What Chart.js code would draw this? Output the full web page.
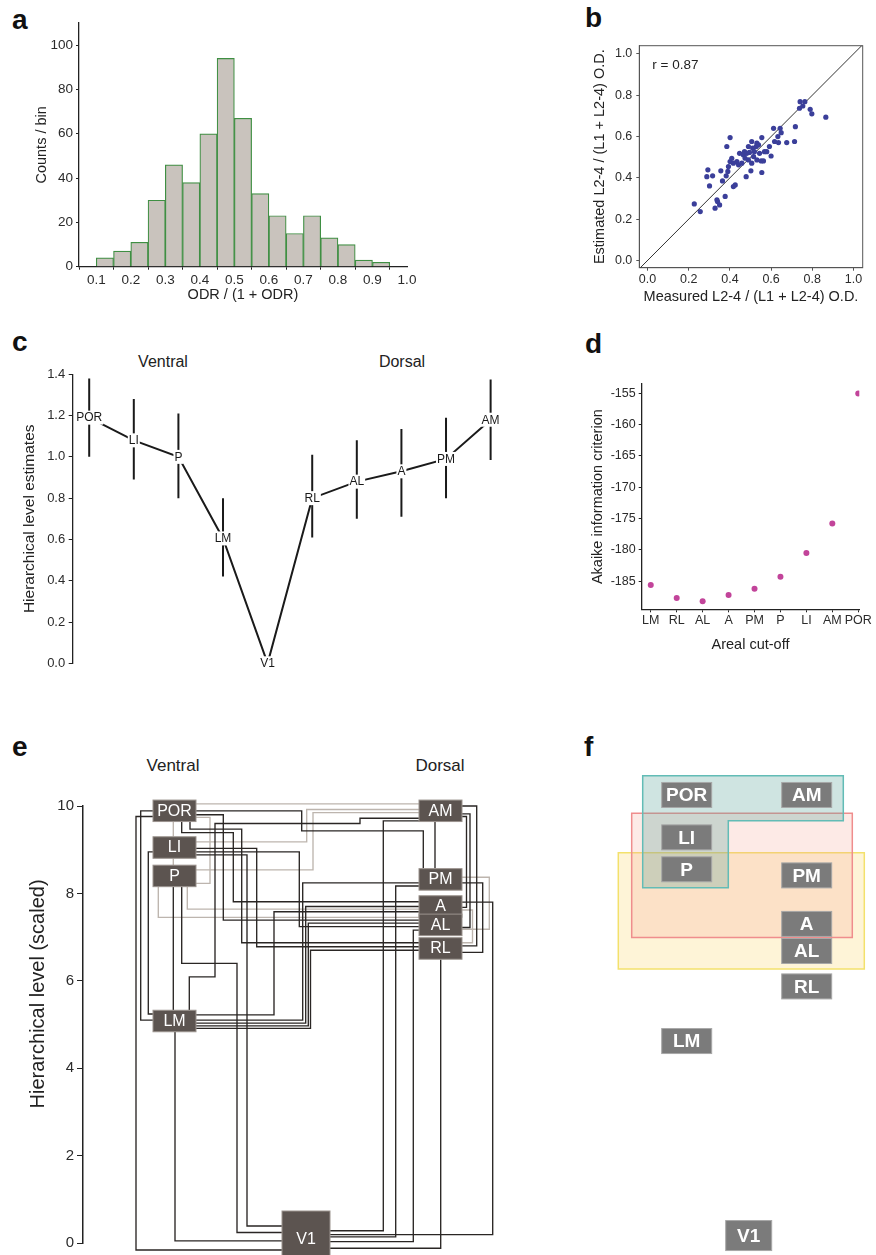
<!DOCTYPE html>
<html>
<head>
<meta charset="utf-8">
<script src="https://cdn.jsdelivr.net/npm/chart.js@4.4.1/dist/chart.umd.min.js"></script>
<style>
  body { margin: 0; background: #fff; width: 876px; height: 1255px; position: relative; overflow: hidden;
         font-family: "Liberation Sans", Arial, sans-serif; }
  canvas { position: absolute; }
  .lt { position: absolute; font-weight: bold; font-size: 28px; line-height: 28px; color: #111; }
  .hd { position: absolute; line-height: 1; color: #222; transform: translateX(-50%); white-space: nowrap; }
</style>
</head>
<body>
<div class="lt" style="left:12px;top:6px">a</div>
<div class="lt" style="left:585px;top:4px">b</div>
<div class="lt" style="left:12px;top:328px">c</div>
<div class="lt" style="left:585px;top:330px">d</div>
<div class="lt" style="left:12px;top:733px">e</div>
<div class="lt" style="left:584px;top:733px">f</div>

<div class="hd" style="left:163px;top:354px;font-size:16px">Ventral</div>
<div class="hd" style="left:402px;top:354px;font-size:16px">Dorsal</div>
<div class="hd" style="left:173px;top:757px;font-size:17px">Ventral</div>
<div class="hd" style="left:440px;top:757px;font-size:17px">Dorsal</div>

<canvas id="ca" width="420" height="310" style="left:0;top:0"></canvas>
<canvas id="cb" width="316" height="310" style="left:560px;top:0"></canvas>
<canvas id="cc" width="520" height="350" style="left:0;top:330px"></canvas>
<canvas id="cd" width="296" height="350" style="left:580px;top:330px"></canvas>
<canvas id="ce" width="520" height="465" style="left:0;top:790px"></canvas>
<canvas id="cf" width="296" height="495" style="left:580px;top:760px"></canvas>

<script>
// ---- a: histogram
const odrBins = [0.125, 0.175, 0.225, 0.275, 0.325, 0.375, 0.425, 0.475, 0.525, 0.575, 0.625, 0.675, 0.725, 0.775, 0.825, 0.875, 0.925];
const odrCounts = [4, 7, 11, 30, 46, 38, 60, 94, 67, 33, 23, 15, 23, 13, 10, 3, 2];
const odrTicksX = [0.1, 0.2, 0.3, 0.4, 0.5, 0.6, 0.7, 0.8, 0.9, 1.0];
const odrTicksY = [0, 20, 40, 60, 80, 100];

// ---- b: measured vs estimated
const measured = [0.227, 0.256, 0.293, 0.288, 0.316, 0.301, 0.328, 0.337, 0.340, 0.350, 0.356, 0.364, 0.377, 0.385, 0.382,
  0.390, 0.393, 0.401, 0.401, 0.409, 0.417, 0.426, 0.417, 0.434, 0.442, 0.447, 0.458, 0.466, 0.471, 0.474, 0.479, 0.482,
  0.490, 0.490, 0.495, 0.502, 0.506, 0.506, 0.511, 0.515, 0.519, 0.528, 0.531, 0.531, 0.539, 0.544, 0.552, 0.555, 0.555,
  0.563, 0.568, 0.579, 0.592, 0.600, 0.612, 0.617, 0.633, 0.636, 0.644, 0.649, 0.676, 0.714, 0.718, 0.738, 0.741, 0.754,
  0.764, 0.790, 0.798, 0.866];
const estimated = [0.274, 0.237, 0.439, 0.406, 0.410, 0.361, 0.253, 0.294, 0.285, 0.269, 0.434, 0.385, 0.310, 0.552, 0.410,
  0.431, 0.455, 0.595, 0.479, 0.495, 0.358, 0.366, 0.471, 0.479, 0.463, 0.519, 0.471, 0.511, 0.527, 0.495, 0.406, 0.519,
  0.552, 0.487, 0.523, 0.434, 0.576, 0.471, 0.544, 0.503, 0.527, 0.552, 0.568, 0.487, 0.560, 0.519, 0.482, 0.595, 0.426,
  0.482, 0.527, 0.527, 0.552, 0.506, 0.640, 0.576, 0.600, 0.571, 0.640, 0.619, 0.571, 0.576, 0.648, 0.737, 0.769, 0.748,
  0.769, 0.732, 0.710, 0.694];
const unitTicks = [0, 0.2, 0.4, 0.6, 0.8, 1.0];

// ---- c: hierarchical level estimates
const cAreas = ['POR', 'LI', 'P', 'LM', 'V1', 'RL', 'AL', 'A', 'PM', 'AM'];
const cEst = [1.19, 1.08, 1.00, 0.605, 0.0, 0.80, 0.88, 0.93, 0.99, 1.18];
const cLow = [1.00, 0.89, 0.80, 0.42, null, 0.61, 0.70, 0.71, 0.80, 0.985];
const cHigh = [1.38, 1.28, 1.21, 0.80, null, 1.01, 1.08, 1.135, 1.19, 1.375];
const cTicks = [0, 0.2, 0.4, 0.6, 0.8, 1.0, 1.2, 1.4];

// ---- d: AIC by areal cut-off
const dCuts = ['LM', 'RL', 'AL', 'A', 'PM', 'P', 'LI', 'AM', 'POR'];
const dAic = [-185.6, -187.7, -188.2, -187.2, -186.2, -184.3, -180.5, -175.8, -155.0];
const dTicks = [-185, -180, -175, -170, -165, -160, -155];

// ---- e: hierarchy wiring (x in panel units, y in hierarchical level)
const eNodes = ['POR', 'LI', 'P', 'LM', 'V1', 'AM', 'PM', 'A', 'AL', 'RL'];
const eNodeX = [174.5, 174.5, 174.5, 174.5, 306, 440.5, 440.5, 440.5, 440.5, 440.5];
const eNodeLevel = [9.89, 9.05, 8.40, 5.08, 0.0, 9.89, 8.32, 7.70, 7.28, 6.74];
const eTicks = [0, 2, 4, 6, 8, 10];
// routed connections: [from, to, waypoints]
const darkWires = [
  ['POR', 'V1', [[153, 9.76], [136, 9.76], [136, -0.16], [282, -0.16]]],
  ['POR', 'LM', [[153, 9.89], [140.7, 9.89], [140.7, 5.10], [153, 5.10]]],
  ['LI', 'LM', [[153, 8.95], [148.3, 8.95], [148.3, 5.24], [153, 5.24]]],
  ['P', 'LM', [[173.3, 8.15], [173.3, 5.33]]],
  ['LM', 'V1', [[175, 4.83], [175, 0.05], [282, 0.05]]],
  ['P', 'V1', [[181.7, 8.15], [181.7, 6.40], [237, 6.40], [237, 0.24], [282, 0.24]]],
  ['LI', 'V1', [[196, 8.88], [247, 8.88], [247, 0.39], [282, 0.39]]],
  ['POR', 'A', [[181.7, 9.64], [181.7, 9.39], [233.3, 9.39], [233.3, 7.81], [419, 7.81]]],
  ['POR', 'RL', [[190, 9.64], [190, 9.47], [241.7, 9.47], [241.7, 6.87], [419, 6.87]]],
  ['POR', 'PM', [[196, 9.89], [301.7, 9.89], [301.7, 9.43], [423.3, 9.43], [423.3, 8.57]]],
  ['POR', 'AL', [[196, 9.80], [223.3, 9.80], [223.3, 7.39], [419, 7.39]]],
  ['LI', 'RL', [[196, 9.03], [256.7, 9.03], [256.7, 6.78], [419, 6.78]]],
  ['LI', 'AL', [[196, 8.95], [299.3, 8.95], [299.3, 7.24], [419, 7.24]]],
  ['LM', 'A', [[196, 5.22], [274, 5.22], [274, 7.58], [419, 7.58]]],
  ['LM', 'PM', [[196, 5.10], [302.7, 5.10], [302.7, 8.24], [419, 8.24]]],
  ['LM', 'A', [[196, 5.03], [305.7, 5.03], [305.7, 7.70], [419, 7.70]]],
  ['LM', 'AL', [[196, 4.97], [308.3, 4.97], [308.3, 7.32], [419, 7.32]]],
  ['LM', 'RL', [[196, 4.91], [310.5, 4.91], [310.5, 6.70], [419, 6.70]]],
  ['LM', 'AM', [[189.3, 5.33], [189.3, 6.09], [215, 6.09], [215, 9.60], [360, 9.60], [360, 9.72], [419, 9.72]]],
  ['AM', 'V1', [[419, 9.66], [383.3, 9.66], [383.3, 0.28], [330, 0.28]]],
  ['AM', 'RL', [[462, 10.0], [476.7, 10.0], [476.7, 6.80], [462, 6.80]]],
  ['AM', 'AL', [[462, 9.82], [470, 9.82], [470, 7.22], [462, 7.22]]],
  ['AM', 'A', [[462, 9.76], [466.5, 9.76], [466.5, 7.68], [462, 7.68]]],
  ['AM', 'PM', [[435, 9.64], [435, 8.57]]],
  ['PM', 'RL', [[462, 8.24], [482.7, 8.24], [482.7, 6.65], [462, 6.65]]],
  ['PM', 'V1', [[419, 8.17], [395.7, 8.17], [395.7, 0.14], [330, 0.14]]],
  ['A', 'V1', [[462, 7.80], [492.7, 7.80], [492.7, 0.19], [330, 0.19]]],
  ['AL', 'V1', [[419, 7.16], [413.3, 7.16], [413.3, 0.03], [330, 0.03]]],
  ['RL', 'V1', [[440.7, 6.49], [440.7, -0.12], [330, -0.12]]]
];
const grayWires = [
  ['POR', 'AM', [[196, 10.05], [419, 10.05]]],
  ['POR', 'LI', [[173.3, 9.64], [173.3, 9.30]]],
  ['LI', 'P', [[173.3, 8.80], [173.3, 8.65]]],
  ['POR', 'P', [[196, 9.74], [210, 9.74], [210, 8.23], [196, 8.23]]],
  ['LI', 'AM', [[196, 9.18], [306.7, 9.18], [306.7, 9.92], [419, 9.92]]],
  ['P', 'AM', [[196, 8.54], [313, 8.54], [313, 9.85], [419, 9.85]]],
  ['P', 'A', [[187.3, 8.15], [187.3, 7.64], [419, 7.64]]],
  ['P', 'AL', [[158.3, 8.15], [158.3, 7.45], [419, 7.45]]],
  ['PM', 'AL', [[462, 8.37], [489.3, 8.37], [489.3, 7.18], [462, 7.18]]],
  ['A', 'RL', [[462, 7.62], [472.5, 7.62], [472.5, 6.87], [462, 6.87]]]
];

// ---- f: area groups
const fNodes = ['POR', 'AM', 'LI', 'P', 'PM', 'A', 'AL', 'RL', 'LM', 'V1'];
const fNodeX = [686.7, 806.7, 686.7, 686.7, 806.7, 806.7, 806.7, 806.7, 686.7, 748.7];
const fNodeLevel = [10.25, 10.25, 9.28, 8.55, 8.41, 7.30, 6.68, 5.87, 4.62, 0.17];
const fGroups = [
  [[618.3, 8.93], [864.3, 8.93], [864.3, 6.27], [618.3, 6.27]],
  [[631.7, 9.83], [852.3, 9.83], [852.3, 6.99], [631.7, 6.99]],
  [[642.7, 10.69], [843.3, 10.69], [843.3, 9.66], [728.3, 9.66], [728.3, 8.13], [642.7, 8.13]]
];

const FONT = '"Liberation Sans", Arial, sans-serif';
Chart.defaults.font.family = FONT;
Chart.defaults.color = '#2b2b2b';
Chart.defaults.animation = false;
Chart.defaults.plugins.legend.display = false;
Chart.defaults.plugins.tooltip.enabled = false;

function axis(o) {
  const s = {
    type: 'linear', min: o.min, max: o.max, display: o.display !== false,
    grid: { drawOnChartArea: false, drawTicks: true, tickLength: o.tl ?? 3, color: o.col ?? '#222', lineWidth: 1 },
    border: { display: true, color: o.col ?? '#222', width: o.bw ?? 1.3 },
    ticks: { padding: o.pad ?? 3, font: { size: o.fs ?? 13 }, color: '#2b2b2b', maxRotation: 0, autoSkip: false },
    title: o.title ? { display: true, text: o.title, font: { size: o.tfs ?? 14.5 }, color: '#222', padding: o.tpad }
                   : { display: false }
  };
  if (o.ticks) s.afterBuildTicks = sc => { sc.ticks = o.ticks.map(v => ({ value: v })); };
  if (o.fmt) s.ticks.callback = o.fmt;
  if (o.w !== undefined) s.afterFit = sc => { sc.width = o.w; };
  if (o.h !== undefined) s.afterFit = sc => { sc.height = o.h; };
  return s;
}
const base = { responsive: false, devicePixelRatio: 1, animation: false, events: [] };

// a
new Chart(document.getElementById('ca'), {
  type: 'bar',
  data: { datasets: [{
    data: odrBins.map((b, i) => ({ x: b, y: odrCounts[i] })),
    backgroundColor: '#c9c3bd', borderColor: '#3f8f43', borderWidth: 1.2,
    barPercentage: 1, categoryPercentage: 1
  }] },
  options: { ...base,
    layout: { padding: { top: 23, right: 13, left: 0, bottom: 0 } },
    scales: {
      x: { ...axis({ min: 0.05, max: 1.0, ticks: odrTicksX, fs: 13.5, pad: 2, h: 43.3,
            fmt: v => v.toFixed(1), title: 'ODR / (1 + ODR)', tpad: { top: 0, bottom: 6 } }), offset: false },
      y: axis({ min: 0, max: 110, ticks: odrTicksY, fs: 13.5, pad: 3, w: 79,
            title: 'Counts / bin', tpad: { top: 33, bottom: 0 } })
    }
  }
});

// b
const frame = {
  id: 'frame',
  beforeDatasetsDraw(chart) {
    const { ctx, chartArea: a } = chart;
    ctx.save();
    ctx.strokeStyle = '#555'; ctx.lineWidth = 1;
    ctx.strokeRect(a.left, a.top, a.right - a.left, a.bottom - a.top);
    ctx.font = '13.5px ' + FONT; ctx.fillStyle = '#222'; ctx.textBaseline = 'middle';
    ctx.fillText('r = 0.87', chart.scales.x.getPixelForValue(0.023), chart.scales.y.getPixelForValue(0.947));
    ctx.restore();
  }
};
new Chart(document.getElementById('cb'), {
  type: 'scatter',
  data: { datasets: [
    { data: measured.map((m, i) => ({ x: m, y: estimated[i] })), pointRadius: 2.6, pointBorderWidth: 0,
      pointBackgroundColor: '#3b3f9a', order: 0 },
    { data: [{ x: -0.06, y: -0.06 }, { x: 1.08, y: 1.08 }], showLine: true, borderColor: '#333',
      borderWidth: 1, pointRadius: 0, order: 1 }
  ] },
  options: { ...base,
    layout: { padding: { top: 45.7, right: 13.3, left: 0, bottom: 0 } },
    scales: {
      x: axis({ min: -0.04, max: 1.045, ticks: unitTicks, fs: 12.5, pad: 1, h: 42.3, col: '#555', bw: 1,
            fmt: v => v.toFixed(1), title: 'Measured L2-4 / (L1 + L2-4) O.D.', tpad: { top: 0, bottom: 4 } }),
      y: axis({ min: -0.035, max: 1.04, ticks: unitTicks, fs: 12.5, pad: 4, w: 79.3, col: '#555', bw: 1,
            fmt: v => v.toFixed(1), title: 'Estimated L2-4 / (L1 + L2-4) O.D.', tpad: { top: 31, bottom: 0 } })
    }
  },
  plugins: [frame]
});

// c
const cLabels = {
  id: 'cLabels',
  afterDatasetsDraw(chart) {
    const { ctx, scales: { x, y } } = chart;
    ctx.save();
    ctx.font = '12px ' + FONT; ctx.textAlign = 'center'; ctx.textBaseline = 'middle';
    cAreas.forEach((name, i) => {
      const px = x.getPixelForValue(i), py = y.getPixelForValue(cEst[i]);
      const w = ctx.measureText(name).width + 2;
      ctx.fillStyle = '#fff'; ctx.fillRect(px - w / 2, py - 7, w, 14);
      ctx.fillStyle = '#1a1a1a'; ctx.fillText(name, px, py + 0.5);
    });
    ctx.restore();
  }
};
const cBars = cAreas.map((n, i) => cLow[i] === null ? null : {
  data: [{ x: i, y: cLow[i] }, { x: i, y: cHigh[i] }], showLine: true,
  borderColor: '#1a1a1a', borderWidth: 2, pointRadius: 0
}).filter(Boolean);
new Chart(document.getElementById('cc'), {
  type: 'scatter',
  data: { datasets: [
    { data: cEst.map((v, i) => ({ x: i, y: v })), showLine: true, borderColor: '#1a1a1a', borderWidth: 2,
      pointRadius: 0, clip: false },
    ...cBars
  ] },
  options: { ...base,
    layout: { padding: { top: 44.3, right: 16, left: 0, bottom: 16.7 } },
    scales: {
      x: { type: 'linear', display: false, min: -0.37, max: 9.3 },
      y: axis({ min: 0, max: 1.4, ticks: cTicks, fs: 13, tl: 4, pad: 3.5, w: 72.7,
            fmt: v => v.toFixed(1), title: 'Hierarchical level estimates', tfs: 15.5, tpad: { top: 20, bottom: 0 } })
    }
  },
  plugins: [cLabels]
});

// d
new Chart(document.getElementById('cd'), {
  type: 'scatter',
  data: { datasets: [{ data: dAic.map((v, i) => ({ x: i, y: v })), pointRadius: 3, pointBorderWidth: 0,
    pointBackgroundColor: '#c2449a' }] },
  options: { ...base,
    layout: { padding: { top: 54, right: 16.7, left: 0, bottom: 0 } },
    scales: {
      x: axis({ min: -0.35, max: 8.04, ticks: dCuts.map((c, i) => i), fs: 12.5, pad: 1, h: 70.7,
            fmt: v => dCuts[v], title: 'Areal cut-off', tpad: { top: 0, bottom: 26 } }),
      y: axis({ min: -189.5, max: -153.5, ticks: dTicks, fs: 12.5, pad: 3, w: 61.7,
            title: 'Akaike information criterion', tpad: { top: 9.6, bottom: 0 } })
    }
  }
});

// e
const eBoxes = {
  id: 'eBoxes',
  afterDatasetsDraw(chart) {
    const { ctx, scales: { x, y } } = chart;
    ctx.save();
    ctx.textAlign = 'center'; ctx.textBaseline = 'middle';
    eNodes.forEach((n, i) => {
      const cx = x.getPixelForValue(eNodeX[i]), cy = y.getPixelForValue(eNodeLevel[i]);
      const w = n === 'V1' ? 48 : 43, h = n === 'V1' ? 64 : 21.5;
      ctx.fillStyle = '#5c5450'; ctx.fillRect(cx - w / 2, cy - h / 2, w, h);
      ctx.strokeStyle = '#9b938e'; ctx.lineWidth = 1; ctx.strokeRect(cx - w / 2, cy - h / 2, w, h);
      ctx.fillStyle = '#fff'; ctx.font = '16px ' + FONT;
      ctx.fillText(n, cx, n === 'V1' ? cy - 3 : cy + 0.5);
    });
    ctx.restore();
  }
};
const wireSet = (list, color) => list.map(w => ({
  label: w[0] + '-' + w[1], data: w[2].map(p => ({ x: p[0], y: p[1] })), showLine: true,
  borderColor: color, borderWidth: 1.35, pointRadius: 0, clip: false
}));
new Chart(document.getElementById('ce'), {
  type: 'scatter',
  data: { datasets: [...wireSet(darkWires, '#2a2624'), ...wireSet(grayWires, '#bdb5ae')] },
  options: { ...base,
    layout: { padding: { top: 16, right: 10, left: 0, bottom: 12 } },
    scales: {
      x: { type: 'linear', display: false, min: 83, max: 510 },
      // leading spaces lift the centred title to where the reference places it
      y: axis({ min: 0, max: 10, ticks: eTicks, fs: 15, tl: 6, pad: 3, w: 83, bw: 1.5,
            title: '           Hierarchical level (scaled)', tfs: 20, tpad: { top: 26, bottom: 0 } })
    }
  },
  plugins: [eBoxes]
});

// f
const fDraw = {
  id: 'fDraw',
  afterDatasetsDraw(chart) {
    const { ctx, scales: { x, y } } = chart;
    const fills = ['rgba(250,215,110,0.28)', 'rgba(245,160,140,0.22)', 'rgba(95,165,155,0.30)'];
    const strokes = ['#f3e16c', '#ef8d8d', '#62bcb6'];
    ctx.save();
    fGroups.forEach((poly, g) => {
      ctx.beginPath();
      poly.forEach((p, k) => {
        const px = x.getPixelForValue(p[0]), py = y.getPixelForValue(p[1]);
        if (k === 0) ctx.moveTo(px, py); else ctx.lineTo(px, py);
      });
      ctx.closePath();
      ctx.fillStyle = fills[g]; ctx.fill();
      ctx.strokeStyle = strokes[g]; ctx.lineWidth = 1.5; ctx.stroke();
    });
    ctx.textAlign = 'center'; ctx.textBaseline = 'middle';
    fNodes.forEach((n, i) => {
      const cx = x.getPixelForValue(fNodeX[i]), cy = y.getPixelForValue(fNodeLevel[i]);
      const w = n === 'V1' ? 46 : 50, h = n === 'V1' ? 30 : 25;
      ctx.fillStyle = '#7b7b7b'; ctx.fillRect(cx - w / 2, cy - h / 2, w, h);
      ctx.strokeStyle = '#a8a8a8'; ctx.lineWidth = 1; ctx.strokeRect(cx - w / 2, cy - h / 2, w, h);
      ctx.fillStyle = '#fff'; ctx.font = 'bold 19px ' + FONT;
      ctx.fillText(n, cx, cy + 1);
    });
    ctx.restore();
  }
};
new Chart(document.getElementById('cf'), {
  type: 'scatter',
  data: { datasets: [] },
  options: { ...base,
    layout: { padding: 0 },
    scales: {
      x: { type: 'linear', display: false, min: 580, max: 876 },
      y: { type: 'linear', display: false, min: -0.275, max: 11.05 }
    }
  },
  plugins: [fDraw]
});
</script>
</body>
</html>
